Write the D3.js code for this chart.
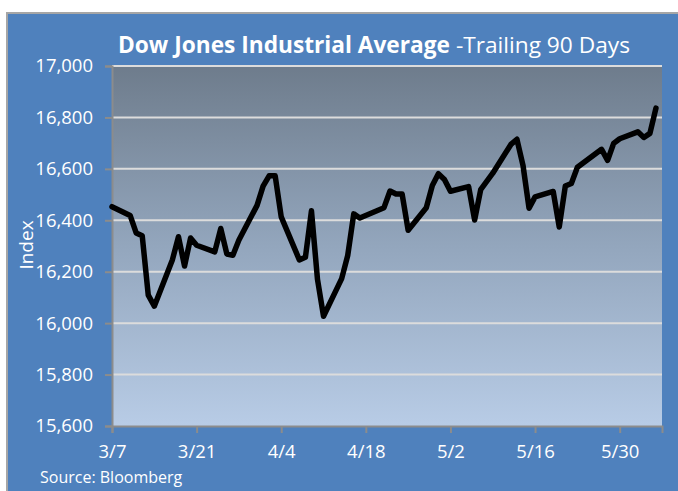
<!DOCTYPE html>
<html>
<head>
<meta charset="utf-8">
<script src="https://cdn.jsdelivr.net/npm/d3@7"></script>
<style>
  body { margin: 0; background: #fff; }
  svg { display: block; font-family: "Open Sans", sans-serif; }
</style>
</head>
<body>
<svg id="chart" width="678" height="491"></svg>
<script>
// DJIA daily closes, trailing 90 days
const dates = [
  "2014-03-07","2014-03-10","2014-03-11","2014-03-12","2014-03-13","2014-03-14",
  "2014-03-17","2014-03-18","2014-03-19","2014-03-20","2014-03-21",
  "2014-03-24","2014-03-25","2014-03-26","2014-03-27","2014-03-28",
  "2014-03-31","2014-04-01","2014-04-02","2014-04-03","2014-04-04",
  "2014-04-07","2014-04-08","2014-04-09","2014-04-10","2014-04-11",
  "2014-04-14","2014-04-15","2014-04-16","2014-04-17",
  "2014-04-21","2014-04-22","2014-04-23","2014-04-24","2014-04-25",
  "2014-04-28","2014-04-29","2014-04-30","2014-05-01","2014-05-02",
  "2014-05-05","2014-05-06","2014-05-07","2014-05-08","2014-05-09",
  "2014-05-12","2014-05-13","2014-05-14","2014-05-15","2014-05-16",
  "2014-05-19","2014-05-20","2014-05-21","2014-05-22","2014-05-23",
  "2014-05-27","2014-05-28","2014-05-29","2014-05-30",
  "2014-06-02","2014-06-03","2014-06-04","2014-06-05"
]
const closes = [
  16453, 16419, 16351, 16340, 16109, 16066,
  16247, 16336, 16222, 16331, 16303,
  16277, 16368, 16269, 16264, 16323,
  16458, 16533, 16573, 16573, 16413,
  16246, 16256, 16437, 16170, 16027,
  16173, 16263, 16425, 16409,
  16449, 16514, 16502, 16502, 16361,
  16449, 16535, 16581, 16559, 16513,
  16531, 16401, 16519, 16551, 16583,
  16695, 16715, 16614, 16447, 16491,
  16512, 16374, 16533, 16543, 16606,
  16676, 16633, 16699, 16717,
  16744, 16722, 16738, 16836
]
const yTicks = [15600, 15800, 16000, 16200, 16400, 16600, 16800, 17000]
const xTicks = ["2014-03-07","2014-03-21","2014-04-04","2014-04-18","2014-05-02","2014-05-16","2014-05-30"]

const PLOT = {left: 112, right: 662, top: 66, bottom: 426}
const parse = d3.timeParse("%Y-%m-%d")
const data = dates.map((d, i) => ({date: parse(d), value: closes[i]}))

const svg = d3.select("#chart")

// outer frame
svg.append("rect")
  .attr("x", 7).attr("y", 13)
  .attr("width", 680).attr("height", 490)
  .attr("fill", "#4f81bd")
  .attr("stroke", "#a6a6a6")
  .attr("stroke-width", 2)

// plot background gradient
const grad = svg.append("defs").append("linearGradient")
  .attr("id", "plotbg").attr("x1", 0).attr("y1", 0).attr("x2", 0).attr("y2", 1)
grad.append("stop").attr("offset", "0%").attr("stop-color", "#6e7c8c")
grad.append("stop").attr("offset", "50%").attr("stop-color", "#93a6bd")
grad.append("stop").attr("offset", "100%").attr("stop-color", "#b8cce6")

svg.append("rect")
  .attr("x", PLOT.left).attr("y", PLOT.top)
  .attr("width", PLOT.right - PLOT.left).attr("height", PLOT.bottom - PLOT.top)
  .attr("fill", "url(#plotbg)")

let xScale = d3.scaleTime()
  .domain([parse("2014-03-07"), parse("2014-06-06")])
  .range([PLOT.left, PLOT.right])

let yScale = d3.scaleLinear()
  .domain([15600, 17000])
  .range([PLOT.bottom, PLOT.top])

// gridlines
svg.append("g")
  .selectAll("line")
  .data(yTicks.filter(t => t > 15600))
  .join("line")
  .attr("x1", PLOT.left).attr("x2", PLOT.right)
  .attr("y1", d => yScale(d)).attr("y2", d => yScale(d))
  .attr("stroke", "#dcdcdc")
  .attr("stroke-width", 2)

// y axis
const yAxis = svg.append("g")
  .attr("transform", `translate(${PLOT.left}, 0)`)
  .call(d3.axisLeft(yScale).tickValues(yTicks).tickSize(7).tickPadding(12)
    .tickFormat(d3.format(",")))
yAxis.select(".domain").attr("stroke", "#8c8c8c").attr("stroke-width", 2)
yAxis.selectAll(".tick line").attr("stroke", "#8c8c8c").attr("stroke-width", 2)
yAxis.selectAll(".tick text")
  .attr("fill", "#fff").attr("font-size", 18.5)
  .attr("font-family", "Open Sans, sans-serif")

// x axis
const xAxis = svg.append("g")
  .attr("transform", `translate(0, ${PLOT.bottom})`)
  .call(d3.axisBottom(xScale).tickValues(xTicks.map(parse)).tickSize(7).tickPadding(12)
    .tickFormat(d3.timeFormat("%-m/%-d")))
xAxis.select(".domain").attr("stroke", "#8c8c8c").attr("stroke-width", 2)
xAxis.selectAll(".tick line").attr("stroke", "#8c8c8c").attr("stroke-width", 2)
xAxis.selectAll(".tick text")
  .attr("fill", "#fff").attr("font-size", 18.5)
  .attr("font-family", "Open Sans, sans-serif")

// the line
svg.append("path")
  .datum(data)
  .attr("d", d3.line().x(d => xScale(d.date)).y(d => yScale(d.value)))
  .attr("fill", "none")
  .attr("stroke", "#000")
  .attr("stroke-width", 5.5)
  .attr("stroke-linejoin", "round")
  .attr("stroke-linecap", "round")

// title
const title = svg.append("text")
  .attr("x", 374).attr("y", 53)
  .attr("text-anchor", "middle")
  .attr("fill", "#fff")
  .attr("font-size", 22.7)
title.append("tspan").attr("font-weight", "bold").text("Dow Jones Industrial Average ")
title.append("tspan").text("-Trailing 90 Days")

// axis title
svg.append("text")
  .attr("transform", "translate(33, 245) rotate(-90)")
  .attr("text-anchor", "middle")
  .attr("fill", "#fff")
  .attr("font-size", 19)
  .text("Index")

svg.append("text")
  .attr("x", 40).attr("y", 483)
  .attr("fill", "#fff")
  .attr("font-size", 16)
  .text("Source: Bloomberg")
</script>
</body>
</html>
